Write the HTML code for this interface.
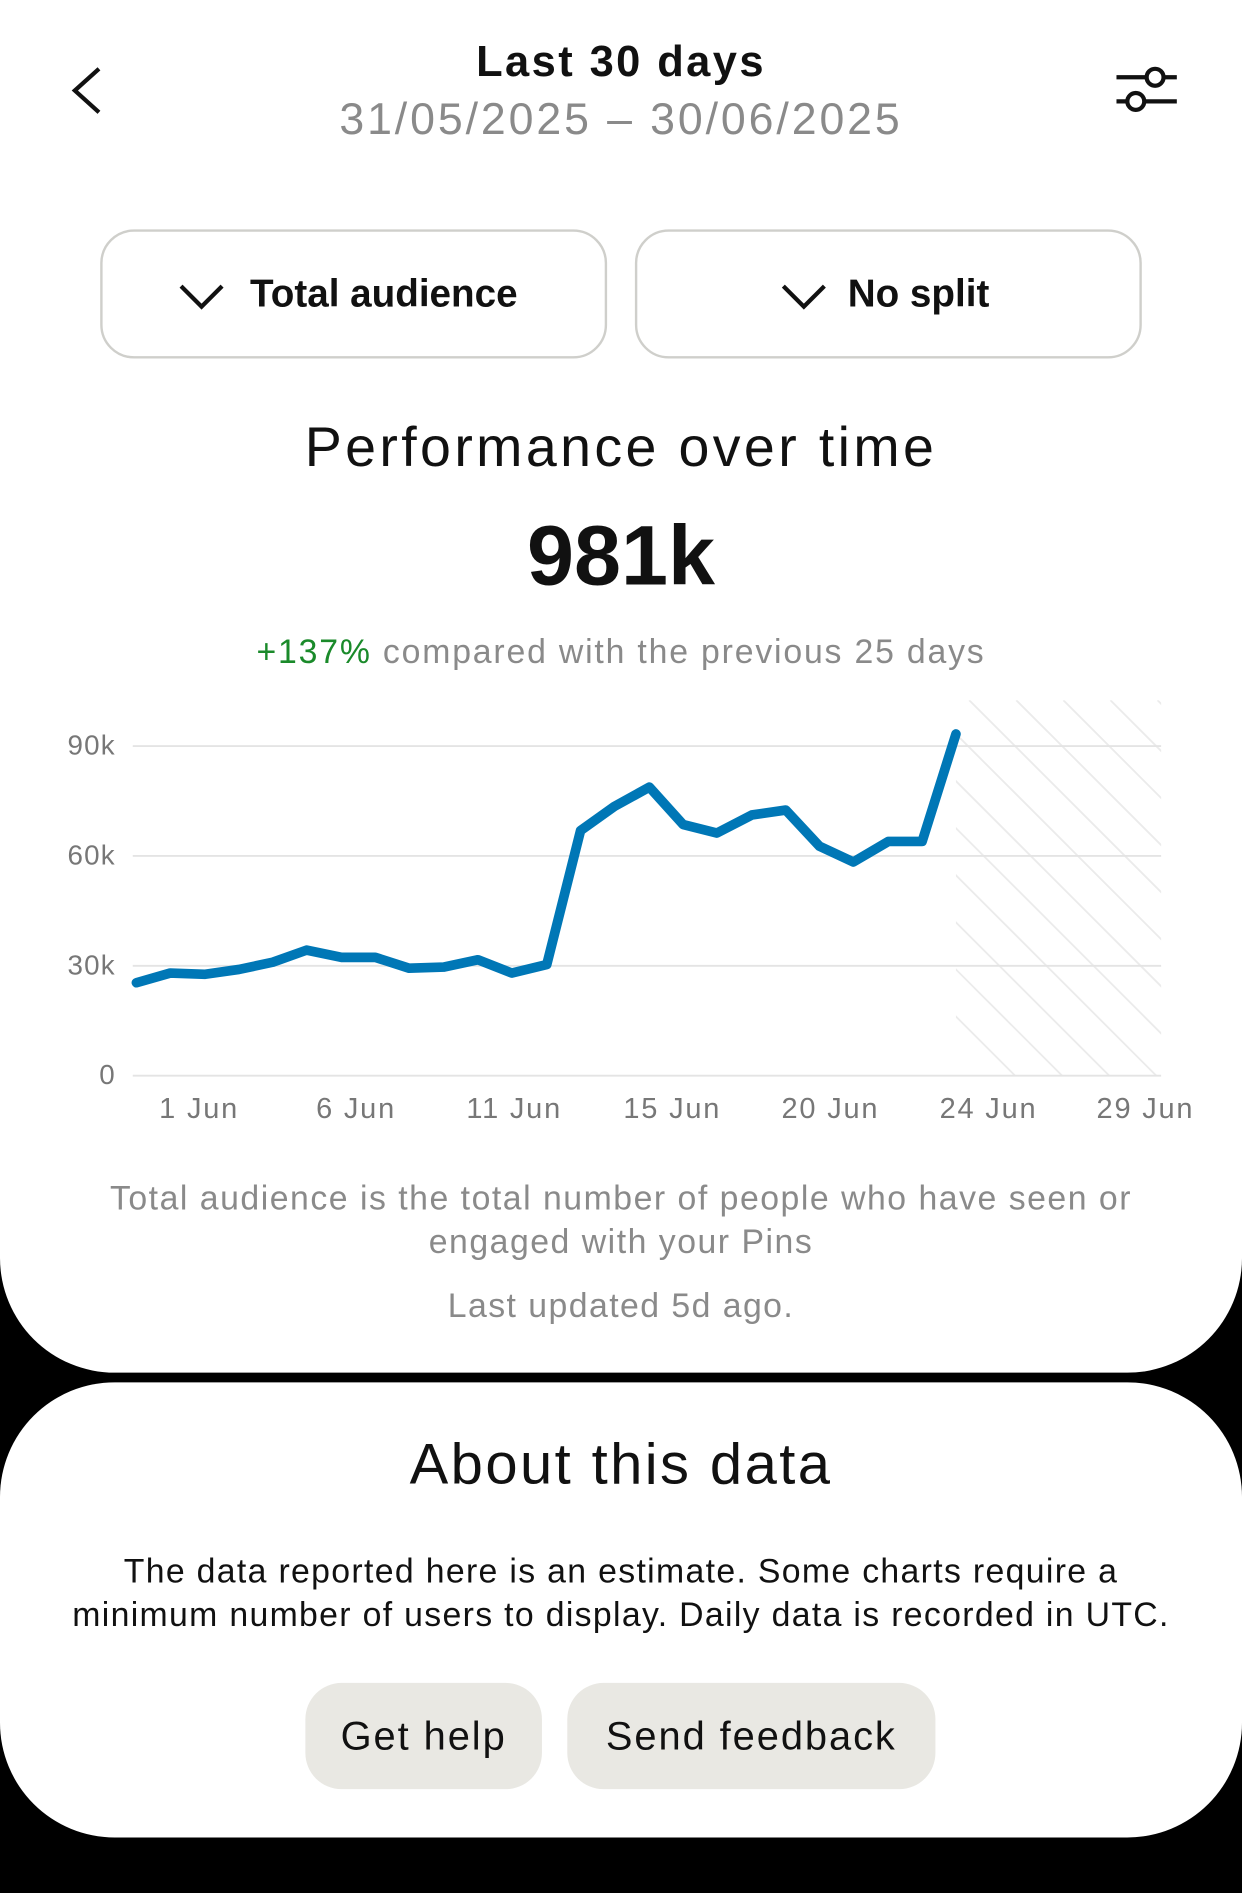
<!DOCTYPE html>
<html><head><meta charset="utf-8"><style>
html,body{margin:0;padding:0;background:#000;}
body{width:1242px;height:1893px;overflow:hidden;position:relative;font-family:"Liberation Sans",sans-serif;}
#w{position:absolute;left:0;top:0;width:1029px;height:1568px;transform:scale(1.20700,1.20727);transform-origin:0 0;}
.card1{position:absolute;left:0;top:-100px;width:1029px;height:1237px;background:#fff;border-radius:0 0 95px 95px;}
.card2{position:absolute;left:0;top:1145px;width:1029px;height:377px;background:#fff;border-radius:95px;}
.t{position:absolute;left:0;width:1029px;text-align:center;white-space:nowrap;}
.btn{position:absolute;border:2px solid #cfcfcb;border-radius:28px;box-sizing:border-box;height:107px;top:190px;width:420px;font-size:32px;font-weight:bold;display:flex;align-items:center;justify-content:center;color:#111;}
.gb{position:absolute;top:1394px;height:88px;background:#e9e8e3;border-radius:30px;font-size:33px;color:#111;display:flex;align-items:center;justify-content:center;letter-spacing:1.6px;}
</style></head><body><div id="w">
<div class="card1"></div>
<div class="card2"></div>
<svg style="position:absolute;left:0;top:0" width="1029" height="1568">
<polyline points="82,57 62,75 82,93" fill="none" stroke="#111" stroke-width="3.5"/>
<g stroke="#111" stroke-width="3.5" fill="#fff">
<line x1="925" y1="64" x2="975" y2="64"/><line x1="925" y1="84" x2="975" y2="84"/>
<circle cx="957" cy="64" r="7"/><circle cx="941" cy="84" r="7"/></g>
<polyline points="150,237 167,254 184,237" fill="none" stroke="#111" stroke-width="3.5"/>
<polyline points="649,237 666,254 683,237" fill="none" stroke="#111" stroke-width="3.5"/>
<defs><clipPath id="c"><rect x="792" y="580" width="170" height="311"/></clipPath></defs>
<g clip-path="url(#c)" stroke="#ebebeb" stroke-width="1.5">
<line x1="803" y1="580" x2="1153" y2="930"/><line x1="842" y1="580" x2="1192" y2="930"/><line x1="881" y1="580" x2="1231" y2="930"/><line x1="920" y1="580" x2="1270" y2="930"/><line x1="959" y1="580" x2="1309" y2="930"/>
<line x1="764" y1="580" x2="1114" y2="930"/><line x1="725" y1="580" x2="1075" y2="930"/><line x1="686" y1="580" x2="1036" y2="930"/><line x1="647" y1="580" x2="997" y2="930"/><line x1="608" y1="580" x2="958" y2="930"/><line x1="569" y1="580" x2="919" y2="930"/><line x1="530" y1="580" x2="880" y2="930"/>
</g>
<g stroke="#e4e4e4" stroke-width="1.5">
<line x1="110" y1="618" x2="962" y2="618"/><line x1="110" y1="709" x2="962" y2="709"/><line x1="110" y1="800" x2="962" y2="800"/><line x1="110" y1="891" x2="962" y2="891"/></g>
<g font-family="Liberation Sans,sans-serif" font-size="23" fill="#777" text-anchor="end" letter-spacing="1">
<text x="96" y="625">90k</text><text x="96" y="716">60k</text><text x="96" y="807">30k</text><text x="96" y="898">0</text></g>
<g font-family="Liberation Sans,sans-serif" font-size="24" fill="#777" text-anchor="middle" letter-spacing="1.5">
<text x="165" y="926">1 Jun</text><text x="295" y="926">6 Jun</text><text x="426" y="926">11 Jun</text><text x="557" y="926">15 Jun</text><text x="688" y="926">20 Jun</text><text x="819" y="926">24 Jun</text><text x="949" y="926">29 Jun</text></g>
<polyline fill="none" stroke="#0077b6" stroke-width="8" stroke-linejoin="round" stroke-linecap="round" points="113,814 141,806 170,807 198,803 226,797 254,787 283,793 311,793 339,802 368,801 396,795 424,806 453,799 481,688 509,668 538,652 566,683 594,690 623,675 651,671 679,701 707,714 736,697 764,697 792,608"/>
</svg>
<div class="t" style="top:30px;font-size:36px;font-weight:bold;color:#111;letter-spacing:2px">Last 30 days</div>
<div class="t" style="top:78px;font-size:37px;color:#8a8a8a;letter-spacing:2.4px">31/05/2025 – 30/06/2025</div>
<div class="btn" style="left:83px;padding-left:50px">Total audience</div>
<div class="btn" style="left:526px;padding-left:50px">No split</div>
<div class="t" style="top:343px;font-size:46px;color:#111;letter-spacing:2.8px">Performance over time</div>
<div class="t" style="top:420px;font-size:70px;font-weight:bold;color:#111">981k</div>
<div class="t" style="top:524px;font-size:28px;color:#8a8a8a;letter-spacing:1.5px"><span style="color:#1a8a2a">+137%</span> compared with the previous 25 days</div>
<div class="t" style="top:975px;font-size:28px;color:#8a8a8a;line-height:36px;letter-spacing:1.25px">Total audience is the total number of people who have seen or<br>engaged with your Pins</div>
<div class="t" style="top:1066px;font-size:28px;color:#8a8a8a;letter-spacing:1.2px">Last updated 5d ago.</div>
<div class="t" style="top:1186px;font-size:48px;color:#111;letter-spacing:2px">About this data</div>
<div class="t" style="top:1284px;font-size:28px;color:#111;line-height:36px;letter-spacing:1.1px">The data reported here is an estimate. Some charts require a<br>minimum number of users to display. Daily data is recorded in UTC.</div>
<div class="gb" style="left:253px;width:196px">Get help</div>
<div class="gb" style="left:470px;width:305px">Send feedback</div>
</div></body></html>
